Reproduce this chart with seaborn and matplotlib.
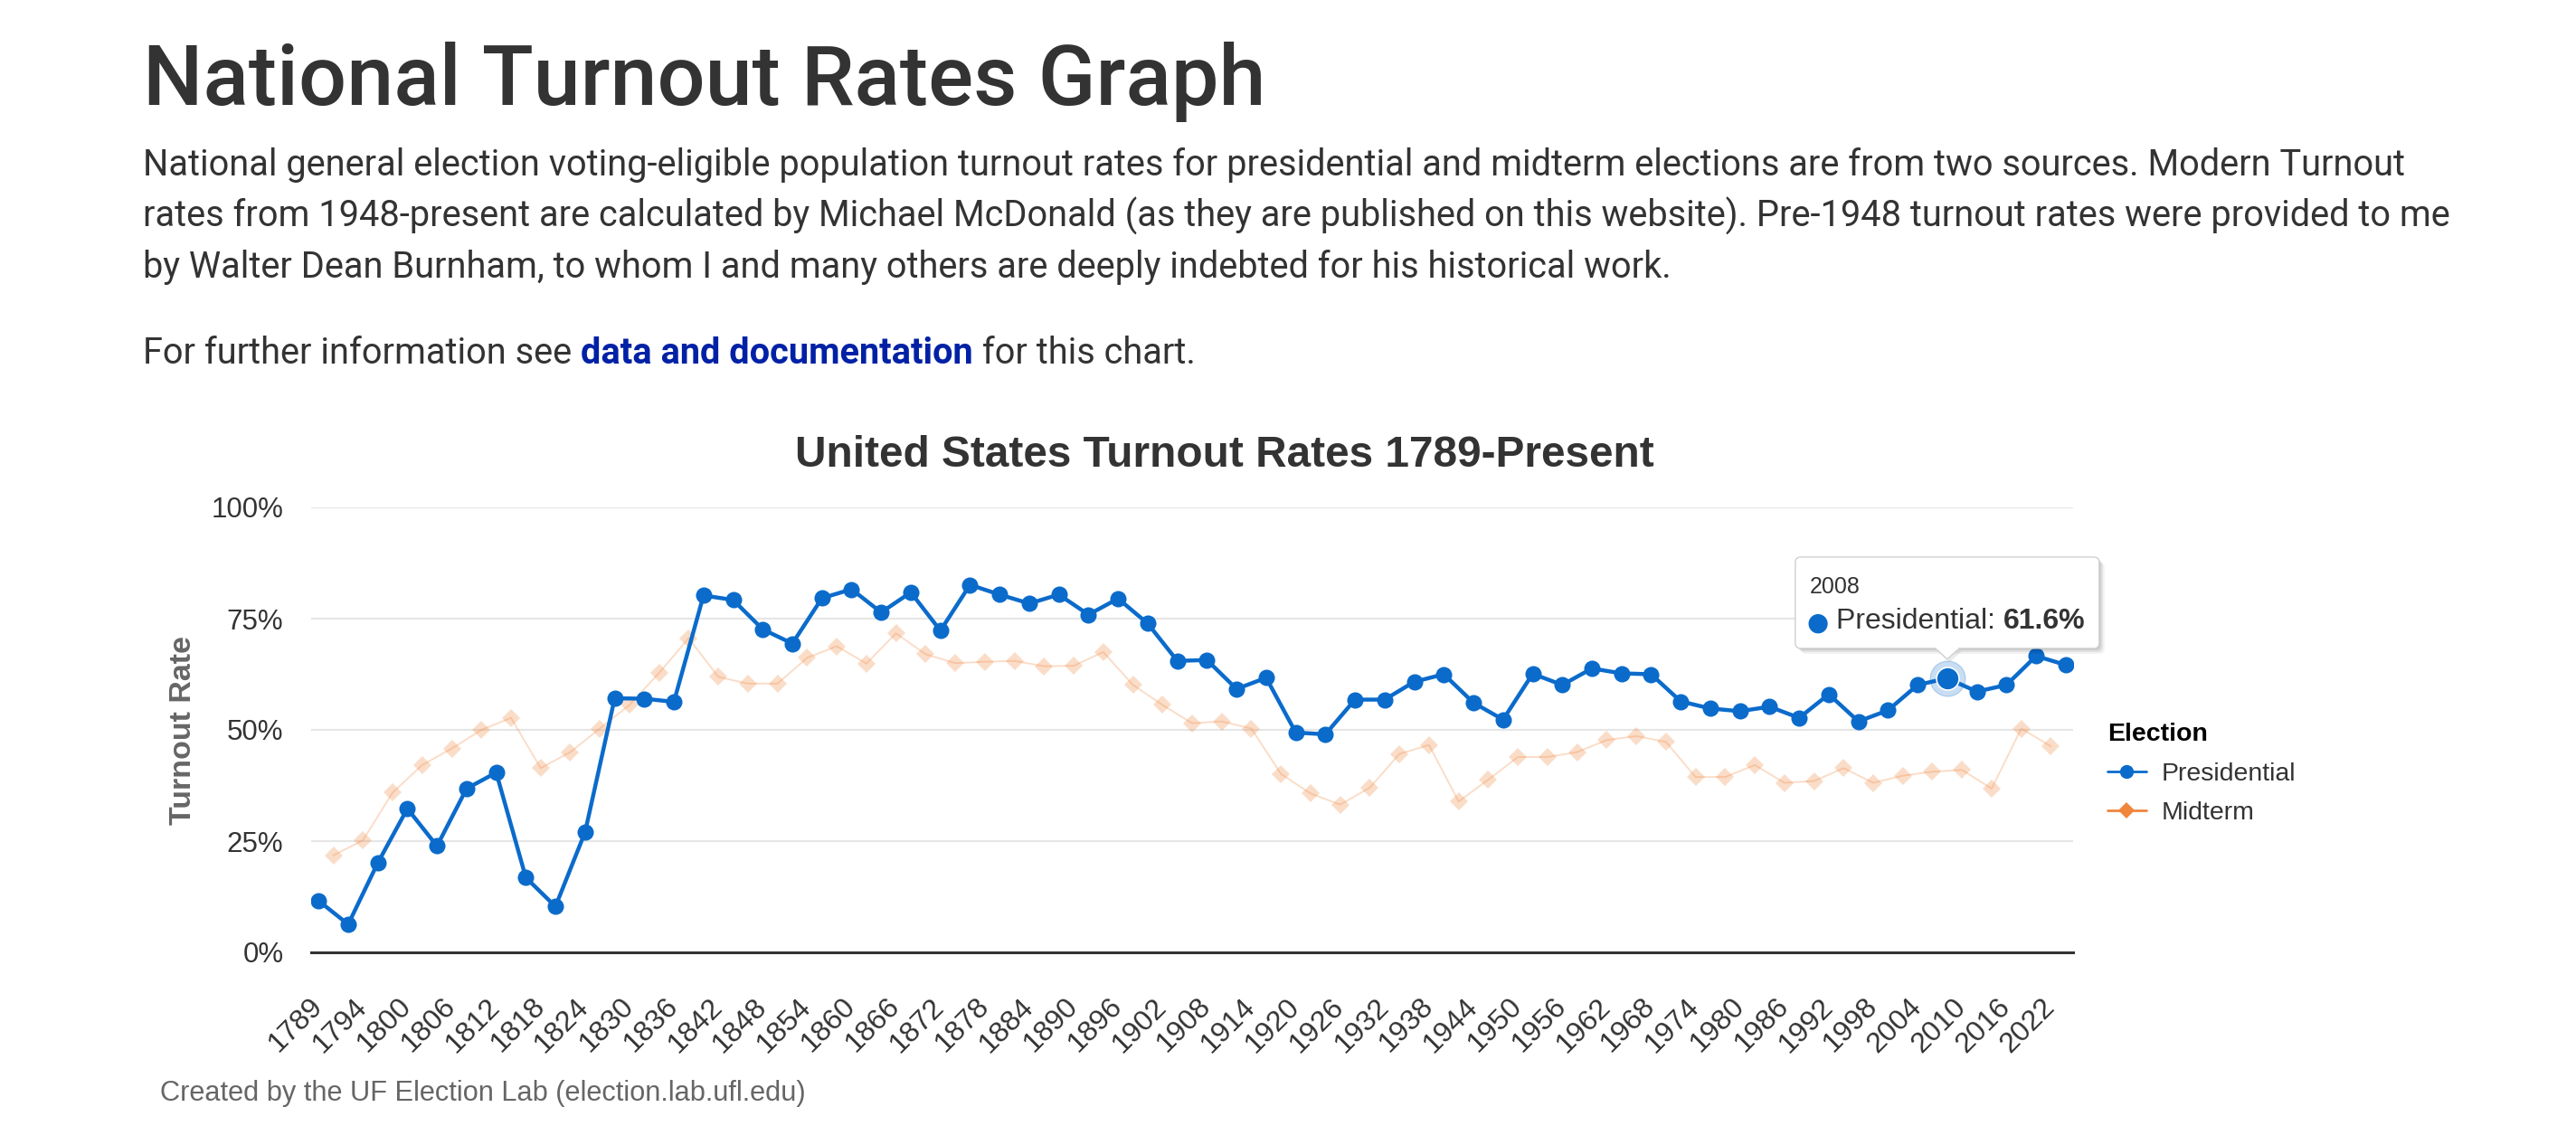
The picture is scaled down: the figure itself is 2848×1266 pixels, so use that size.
import matplotlib
matplotlib.use('Agg')
import matplotlib.pyplot as plt
import matplotlib.transforms as mtransforms
from matplotlib.lines import Line2D
from matplotlib.patches import FancyBboxPatch, Polygon, Rectangle
import pandas as pd
import seaborn as sns

W, H = 2848, 1266  # output size in pixels (dpi 100)

# x categories: 1789, then every even year up to 2024
categories = ['1789'] + [str(y) for y in range(1790, 2025, 2)]
tick_labels = categories[::3]

pres_years = ['1789'] + [str(y) for y in range(1792, 2025, 4)]
pres_turnout = [
    11.6, 6.3, 20.1, 32.3, 23.9, 36.8, 40.4, 16.8, 10.3, 27.0,
    57.1, 57.0, 56.3, 80.2, 79.2, 72.6, 69.4, 79.6, 81.6, 76.4,
    80.9, 72.3, 82.6, 80.4, 78.4, 80.4, 75.9, 79.5, 73.9, 65.5,
    65.7, 59.2, 61.7, 49.4, 49.0, 56.8, 56.8, 60.8, 62.5, 56.1,
    52.3, 62.6, 60.1, 63.8, 62.7, 62.5, 56.4, 54.8, 54.2, 55.2,
    52.7, 58.0, 51.9, 54.4, 60.1, 61.6, 58.6, 60.1, 66.6, 64.6,
]

mid_years = [str(y) for y in range(1790, 2023, 4)]
mid_turnout = [
    21.8, 25.2, 35.9, 42.1, 45.8, 50.0, 52.7, 41.4, 45.0, 50.3,
    55.6, 62.8, 70.6, 61.9, 60.4, 60.4, 66.2, 68.8, 64.9, 71.7,
    67.0, 65.0, 65.3, 65.5, 64.3, 64.4, 67.5, 60.1, 55.6, 51.5,
    51.9, 50.3, 40.1, 35.7, 33.2, 37.0, 44.6, 46.6, 33.9, 38.8,
    43.9, 43.9, 45.0, 47.7, 48.6, 47.3, 39.4, 39.4, 42.1, 38.1,
    38.5, 41.4, 38.1, 39.7, 40.6, 41.0, 36.8, 50.3, 46.3,
]

y_ticks = [0, 25, 50, 75, 100]
tooltip_year = '2008'

BLUE = '#0b6bcb'
ORANGE = '#f0853c'
TEXT = '#333333'

sns.set_theme(style='white')
plt.rcParams['font.family'] = ['Liberation Sans', 'DejaVu Sans']

cat_pos = {c: i for i, c in enumerate(categories)}
pres = pd.DataFrame({'year': pres_years, 'turnout': pres_turnout, 'election': 'Presidential'})
mid = pd.DataFrame({'year': mid_years, 'turnout': mid_turnout, 'election': 'Midterm'})
pres['pos'] = pres['year'].map(cat_pos)
mid['pos'] = mid['year'].map(cat_pos)

fig = plt.figure(figsize=(W / 100, H / 100), dpi=100)
fig.patch.set_facecolor('white')
ax = fig.add_axes([344 / W, 1 - 1053 / H, (2292 - 344) / W, (1053 - 561) / H])

sns.lineplot(data=mid, x='pos', y='turnout', color=ORANGE, alpha=0.28, lw=1.4,
             marker='D', markersize=10, markeredgewidth=0, errorbar=None,
             legend=False, ax=ax, zorder=2)
sns.lineplot(data=pres, x='pos', y='turnout', color=BLUE, lw=3.2,
             marker='o', markersize=13, markeredgewidth=0, errorbar=None,
             legend=False, ax=ax, zorder=3)

# hovered point
hx = cat_pos[tooltip_year]
hy = pres_turnout[pres_years.index(tooltip_year)]
ax.plot([hx], [hy], marker='o', markersize=28, color=BLUE, alpha=0.22, lw=0, zorder=4)
ax.plot([hx], [hy], marker='o', markersize=18, color=BLUE, mec='white', mew=1.2, lw=0, zorder=5)

ax.set_xlim(-0.5, len(categories) - 0.5)
ax.set_ylim(0, 100)
ax.set_yticks(y_ticks)
ax.set_yticklabels([f'{v}%' for v in y_ticks])
ax.set_xticks([cat_pos[t] for t in tick_labels])
ax.set_xticklabels(tick_labels, rotation=45, ha='right', va='center', rotation_mode='anchor')
ax.tick_params(axis='x', length=0, pad=40, labelsize=23, colors=TEXT)
ax.tick_params(axis='y', length=0, pad=22, labelsize=22.5, colors=TEXT)
ax.set_xlabel('')
ax.set_ylabel('Turnout Rate', fontsize=24.5, fontweight='bold', color='#666666')
ax.yaxis.set_label_coords((218 - 344) / 1948, 0.5)
ax.grid(axis='y', color='#e6e6e6', lw=1.5)
ax.grid(axis='x', visible=False)
ax.set_axisbelow(True)
for s in ['top', 'right', 'left']:
    ax.spines[s].set_visible(False)
ax.spines['bottom'].set_color(TEXT)
ax.spines['bottom'].set_linewidth(2.2)
ax.spines['bottom'].set_zorder(1)

handles = [
    Line2D([], [], color=BLUE, lw=2, marker='o', markersize=11, mew=0, label='Presidential'),
    Line2D([], [], color=ORANGE, lw=2, marker='D', markersize=9, mew=0, label='Midterm'),
]
leg = ax.legend(handles=handles, title='Election', loc='upper left',
                bbox_to_anchor=(2330 / W, 1 - 799 / H), bbox_transform=fig.transFigure,
                frameon=False, fontsize=20.5, title_fontsize=20.5, alignment='left',
                handlelength=1.5, handletextpad=0.6, labelspacing=0.62,
                borderpad=0, borderaxespad=0)
leg.get_title().set_fontweight('bold')
leg.get_title().set_color('black')
for t in leg.get_texts():
    t.set_color(TEXT)

renderer = fig.canvas.get_renderer()


def put(x, y, s, target_w=None, **kw):
    # x, y in pixels from the top-left corner, y is the baseline
    t = fig.text(x / W, 1 - y / H, s, va='baseline', **kw)
    if target_w:
        w = t.get_window_extent(renderer).width
        t.set_fontsize(t.get_fontsize() * target_w / w)
    return t


head_font = ['Roboto', 'DejaVu Sans']
put(158, 116, 'National Turnout Rates Graph', target_w=1241, fontsize=80,
    fontweight='medium', color=TEXT, family=head_font)

lines = [
    'National general election voting-eligible population turnout rates for presidential and midterm elections are from two sources. Modern Turnout',
    'rates from 1948-present are calculated by Michael McDonald (as they are published on this website). Pre-1948 turnout rates were provided to me',
    'by Walter Dean Burnham, to whom I and many others are deeply indebted for his historical work.',
]
t0 = put(158, 194, lines[0], target_w=2506, fontsize=26, color=TEXT, family=head_font)
body_size = t0.get_fontsize()
for i, s in enumerate(lines[1:]):
    put(158, 194 + 56.5 * (i + 1), s, fontsize=body_size, color=TEXT, family=head_font)

x = 158
for s, c, wgt in [('For further information see ', TEXT, 'normal'),
                  ('data and documentation', '#0021a5', 'bold'),
                  (' for this chart.', TEXT, 'normal')]:
    t = put(x, 402, s, fontsize=body_size, color=c, fontweight=wgt, family=head_font)
    x += t.get_window_extent(renderer).width

put(1354, 516, 'United States Turnout Rates 1789-Present', target_w=949,
    fontsize=28, fontweight='bold', color=TEXT, ha='center')
put(177, 1217, 'Created by the UF Election Lab (election.lab.ufl.edu)', target_w=714,
    fontsize=19, color='#666666')

# tooltip anchored at the hovered point (display pixels)
px, py = ax.transData.transform((hx, hy))
ident = mtransforms.IdentityTransform()
bx0, bx1 = px - 168, px + 168
by0, by1 = py + 33, py + 134
for k, a in [(6, 0.05), (4, 0.07), (2, 0.09)]:
    fig.add_artist(FancyBboxPatch((bx0 + k, by0 - k), bx1 - bx0, by1 - by0,
                                  boxstyle='round,pad=0,rounding_size=6',
                                  fc='black', ec='none', alpha=a, transform=ident, zorder=10))
fig.add_artist(Polygon([(px - 13 + 3, by0 - 3), (px + 13 + 3, by0 - 3), (px + 3, py + 21 - 3)],
                       closed=True, fc='black', ec='none', alpha=0.08, transform=ident, zorder=10))
fig.add_artist(FancyBboxPatch((bx0, by0), bx1 - bx0, by1 - by0,
                              boxstyle='round,pad=0,rounding_size=6',
                              fc='white', ec='#cfcfcf', lw=1, transform=ident, zorder=11))
fig.add_artist(Polygon([(px - 13, by0), (px + 13, by0), (px, py + 21)],
                       closed=True, fc='white', ec='#cfcfcf', lw=1, transform=ident, zorder=11))
fig.add_artist(Rectangle((px - 12, by0 - 1), 24, 3, fc='white', ec='none',
                         transform=ident, zorder=12))

tip_base = H - py  # pixel y of the point from the top
put(bx0 + 16, tip_base - 94, tooltip_year, fontsize=18, color=TEXT, zorder=13)
put(bx0 + 13, tip_base - 53, '\u25cf', fontsize=20, color=BLUE, zorder=13,
    family=['DejaVu Sans'])
t1 = put(bx0 + 45, tip_base - 55, 'Presidential: ', fontsize=23, color=TEXT, zorder=13)
put(bx0 + 45 + t1.get_window_extent(renderer).width, tip_base - 55, f'{hy:.1f}%',
    fontsize=23, fontweight='bold', color=TEXT, zorder=13)

fig.savefig('out.png', dpi=100, facecolor='white')
